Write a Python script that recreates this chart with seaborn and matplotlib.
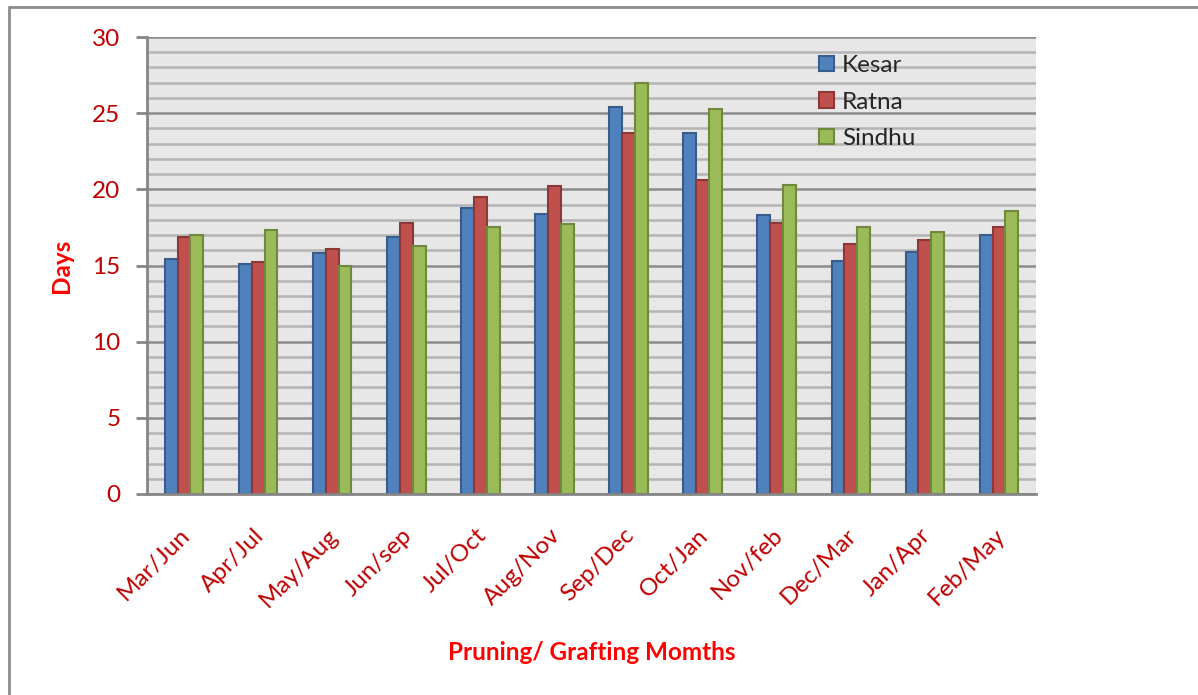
import matplotlib
matplotlib.use("Agg")
import matplotlib.pyplot as plt
import matplotlib.transforms as mtransforms
from matplotlib.lines import Line2D
from matplotlib.ticker import MultipleLocator
import seaborn as sns
import pandas as pd

months = ["Mar/Jun", "Apr/Jul", "May/Aug", "Jun/sep", "Jul/Oct", "Aug/Nov",
          "Sep/Dec", "Oct/Jan", "Nov/feb", "Dec/Mar", "Jan/Apr", "Feb/May"]
kesar = [15.4, 15.1, 15.8, 16.9, 18.8, 18.4, 25.4, 23.7, 18.3, 15.3, 15.9, 17.0]
ratna = [16.9, 15.2, 16.1, 17.8, 19.5, 20.2, 23.7, 20.6, 17.8, 16.4, 16.7, 17.5]
sindhu = [17.0, 17.3, 15.0, 16.3, 17.5, 17.7, 27.0, 25.3, 20.3, 17.5, 17.2, 18.6]
varieties = ["Kesar", "Ratna", "Sindhu"]

fills = ["#4f81bd", "#c0504d", "#9bbb59"]
edges = ["#385d8a", "#8c3836", "#71893f"]
dark_red = "#c00000"
bright_red = "#ff0000"

rows = []
for name, vals in zip(varieties, [kesar, ratna, sindhu]):
    for m, v in zip(months, vals):
        rows.append({"month": m, "variety": name, "days": v})
df = pd.DataFrame(rows)

sns.set_style("white")
plt.rcParams["font.family"] = ["Lato", "DejaVu Sans"]

fig = plt.figure(figsize=(11.98, 6.95), dpi=100)
ax = fig.add_axes([147 / 1198, 1 - 494 / 695, (1036 - 147) / 1198, 457 / 695])
ax.set_facecolor("#e7e7e7")

sns.barplot(data=df, x="month", y="days", hue="variety", order=months,
            hue_order=varieties, palette=fills, width=0.52, ax=ax,
            saturation=1, errorbar=None, linewidth=1.5)
for cont, ec in zip(ax.containers, edges):
    for p in cont.patches:
        p.set_edgecolor(ec)
        p.set_zorder(3)

ax.set_ylim(0, 30)
ax.set_xlim(-0.5, len(months) - 0.5)
ax.yaxis.set_major_locator(MultipleLocator(5))
ax.yaxis.set_minor_locator(MultipleLocator(1))
ax.grid(which="minor", axis="y", color="#b4b4b4", linewidth=1.8, zorder=0)
ax.grid(which="major", axis="y", color="#8c8c8c", linewidth=1.8, zorder=0)
ax.set_axisbelow(True)
ax.grid(False, axis="x")

for s in ["top", "right"]:
    ax.spines[s].set_visible(False)
for s in ["left", "bottom"]:
    ax.spines[s].set_color("#868686")
    ax.spines[s].set_linewidth(2)
    ax.spines[s].set_zorder(4)

ax.tick_params(axis="y", which="major", length=8, width=2, color="#868686",
               labelsize=17.5, labelcolor=dark_red, pad=11, left=True)
ax.tick_params(axis="y", which="minor", length=0)
ax.tick_params(axis="x", length=0, labelsize=17.5, labelcolor=dark_red, pad=22)
shift = mtransforms.ScaledTranslation(-5 / 100, 0, fig.dpi_scale_trans)
for lab in ax.get_xticklabels():
    lab.set_rotation(45)
    lab.set_ha("right")
    lab.set_va("top")
    lab.set_rotation_mode("anchor")
    lab.set_transform(lab.get_transform() + shift)

ax.set_xlabel("Pruning/ Grafting Momths", color=bright_red, fontsize=17.5,
              fontweight="bold", labelpad=22)
ax.set_ylabel("Days", color=bright_red, fontsize=17.5, fontweight="bold",
              labelpad=14)

handles, labels = ax.get_legend_handles_labels()
for h, ec in zip(handles, edges):
    h.set_edgecolor(ec)
leg = ax.legend(handles, labels, loc="upper left",
                bbox_to_anchor=((819 - 147) / 889, 1 - (55 - 37) / 457),
                frameon=False, fontsize=17.5, handlelength=0.62,
                handleheight=0.62, handletextpad=0.33, labelspacing=0.64,
                borderpad=0, borderaxespad=0)

# figure frame (left and top)
fig.add_artist(Line2D([9 / 1198, 9 / 1198], [0, 1 - 7 / 695],
                      transform=fig.transFigure, color="#8c8c8c", linewidth=2))
fig.add_artist(Line2D([9 / 1198, 1], [1 - 7 / 695, 1 - 7 / 695],
                      transform=fig.transFigure, color="#8c8c8c", linewidth=2))

fig.savefig("out.png", dpi=100)
